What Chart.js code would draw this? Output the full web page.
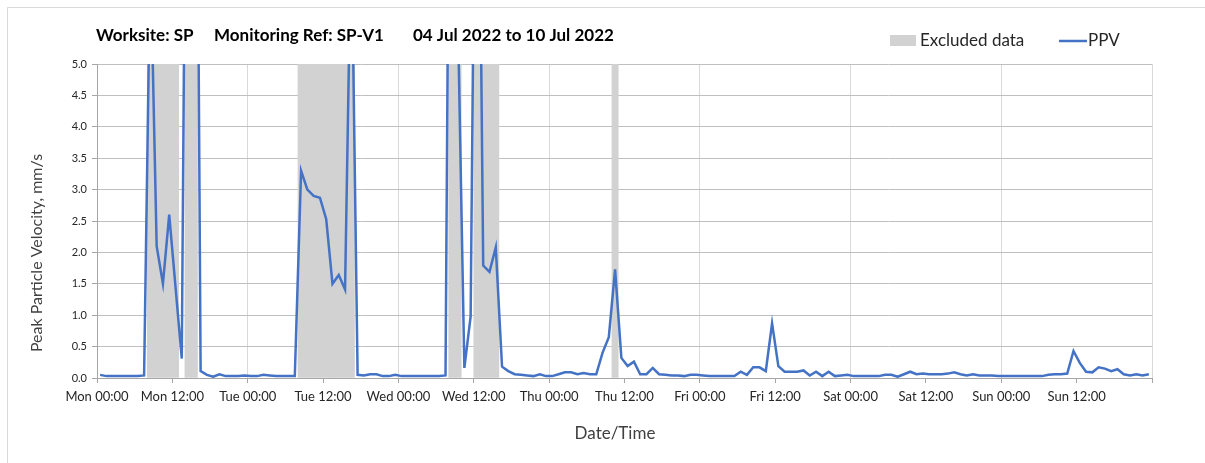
<!DOCTYPE html>
<html>
<head>
<meta charset="utf-8">
<script src="https://cdn.jsdelivr.net/npm/chart.js@4/dist/chart.umd.min.js"></script>
<style>
	html, body { margin: 0; padding: 0; background: #fff; }
</style>
</head>
<body>
<canvas id="ppv-chart" width="1205" height="463"></canvas>
<script>
'use strict';

const TITLE_PARTS = ['Worksite: SP', 'Monitoring Ref: SP-V1', '04 Jul 2022 to 10 Jul 2022'];
const X_TITLE = 'Date/Time';
const Y_TITLE = 'Peak Particle Velocity, mm/s';
const TICK_LABELS = [
	'Mon 00:00', 'Mon 12:00', 'Tue 00:00', 'Tue 12:00', 'Wed 00:00', 'Wed 12:00',
	'Thu 00:00', 'Thu 12:00', 'Fri 00:00', 'Fri 12:00', 'Sat 00:00', 'Sat 12:00',
	'Sun 00:00', 'Sun 12:00',
];

// hourly PPV (mm/s), first reading at Mon 00:30
const PPV_MON = [0.05, 0.03, 0.03, 0.03, 0.03, 0.03, 0.03, 0.04, 6.8, 2.1, 1.5, 2.6,
	1.45, 0.31, 14, 16, 0.11, 0.05, 0.02, 0.06, 0.03, 0.03, 0.03, 0.04];
const PPV_TUE = [0.03, 0.03, 0.05, 0.04, 0.03, 0.03, 0.03, 0.03, 3.3, 3.0, 2.9, 2.87,
	2.53, 1.5, 1.64, 1.41, 7.3, 0.05, 0.04, 0.06, 0.06, 0.03, 0.03, 0.05];
const PPV_WED = [0.03, 0.03, 0.03, 0.03, 0.03, 0.03, 0.03, 0.04, 15, 5.6, 0.16, 0.98,
	12, 1.79, 1.69, 2.08, 0.18, 0.11, 0.06, 0.05, 0.04, 0.03, 0.06, 0.03];
const PPV_THU = [0.03, 0.06, 0.09, 0.09, 0.06, 0.08, 0.06, 0.06, 0.4, 0.65, 1.73, 0.32,
	0.19, 0.26, 0.06, 0.06, 0.16, 0.06, 0.05, 0.04, 0.04, 0.03, 0.05, 0.05];
const PPV_FRI = [0.04, 0.03, 0.03, 0.03, 0.03, 0.03, 0.1, 0.05, 0.17, 0.17, 0.11, 0.87,
	0.19, 0.1, 0.1, 0.1, 0.12, 0.04, 0.1, 0.03, 0.1, 0.03, 0.04, 0.05];
const PPV_SAT = [0.03, 0.03, 0.03, 0.03, 0.03, 0.05, 0.05, 0.02, 0.06, 0.1, 0.06, 0.07,
	0.06, 0.06, 0.06, 0.07, 0.09, 0.06, 0.04, 0.06, 0.04, 0.04, 0.04, 0.03];
const PPV_SUN = [0.03, 0.03, 0.03, 0.03, 0.03, 0.03, 0.03, 0.05, 0.06, 0.06, 0.07, 0.43,
	0.24, 0.1, 0.09, 0.17, 0.15, 0.11, 0.14, 0.06, 0.04, 0.06, 0.04, 0.06];

// hours (from Mon 00:00) flagged as excluded data
const EXCLUDED_HOURS = [8, 9, 10, 11, 12, 14, 15, 32, 33, 34, 35, 36, 37, 38, 39, 40,
	56, 57, 60, 61, 62, 63, 82];

const Y_MAX = 5;
const PPV_COLOR = '#4472c4';
const EXCLUDED_COLOR = '#d2d2d2';
const FONT = 'Lato';

function buildPpvPoints() {
	const all = [].concat(PPV_MON, PPV_TUE, PPV_WED, PPV_THU, PPV_FRI, PPV_SAT, PPV_SUN);
	return all.map((v, i) => ({ x: i + 0.5, y: v }));
}

function buildExcludedPoints() {
	return EXCLUDED_HOURS.map((h) => ({ x: h + 0.5, y: Y_MAX }));
}

//title, legend and axis titles are placed by hand to sit where the original has them
const headerPlugin = {
	id: 'header',
	afterDraw(chart) {
		const ctx = chart.ctx;
		ctx.save();

		ctx.strokeStyle = '#d9d9d9';
		ctx.lineWidth = 1;
		ctx.beginPath();
		ctx.moveTo(7.5, 463);
		ctx.lineTo(7.5, 7.5);
		ctx.lineTo(1205, 7.5);
		ctx.stroke();

		ctx.fillStyle = '#000';
		ctx.textBaseline = 'middle';
		ctx.font = 'bold 17px ' + FONT;
		const titleX = [96, 214, 413];
		TITLE_PARTS.forEach((t, i) => ctx.fillText(t, titleX[i], 36));

		ctx.font = '17px ' + FONT;
		ctx.fillStyle = EXCLUDED_COLOR;
		ctx.fillRect(890, 35, 26, 11);
		ctx.fillStyle = '#262626';
		ctx.fillText('Excluded data', 920, 41);

		ctx.strokeStyle = PPV_COLOR;
		ctx.lineWidth = 2.5;
		ctx.beginPath();
		ctx.moveTo(1059, 41);
		ctx.lineTo(1087, 41);
		ctx.stroke();
		ctx.fillText('PPV', 1088, 41);

		ctx.fillStyle = '#404040';
		ctx.textAlign = 'center';
		ctx.font = '17px ' + FONT;
		ctx.fillText(X_TITLE, 615, 434);

		ctx.font = '16px ' + FONT;
		ctx.translate(37, 253);
		ctx.rotate(-Math.PI / 2);
		ctx.fillText(Y_TITLE, 0, 0);

		ctx.restore();
	},
};

function getX() {
	return {
		type: 'linear',
		min: 0,
		max: 168,
		offset: false,
		afterFit(scale) {
			scale.height = 85;
		},
		ticks: {
			stepSize: 12,
			autoSkip: false,
			maxRotation: 0,
			padding: 6,
			color: '#262626',
			font: { family: FONT, size: 13 },
			callback: (v) => TICK_LABELS[v / 12] || '',
		},
		grid: {
			offset: false,
			color: (c) => (c.tick && c.tick.value % 24 === 0 ? '#d9d9d9' : 'rgba(0,0,0,0)'),
			tickColor: '#a6a6a6',
			tickLength: 5,
		},
		border: { color: '#a6a6a6' },
	};
}

function getY() {
	return {
		min: 0,
		max: Y_MAX,
		afterFit(scale) {
			scale.width = 97;
		},
		ticks: {
			stepSize: 0.5,
			padding: 5,
			color: '#262626',
			font: { family: FONT, size: 11 },
			callback: (v) => v.toFixed(1),
		},
		grid: {
			color: '#bfbfbf',
			tickColor: '#a6a6a6',
			tickLength: 5,
		},
		border: { color: '#a6a6a6' },
	};
}

function makePpvChart() {
	const ctx = document.querySelector('#ppv-chart').getContext('2d');
	const configuration = {
		type: 'line',
		data: {
			datasets: [
				{
					type: 'line',
					label: 'PPV',
					data: buildPpvPoints(),
					borderColor: PPV_COLOR,
					borderWidth: 2.5,
					pointRadius: 0,
					tension: 0,
					order: 0,
				},
				{
					type: 'bar',
					label: 'Excluded data',
					data: buildExcludedPoints(),
					backgroundColor: EXCLUDED_COLOR,
					borderWidth: 0,
					barPercentage: 1,
					categoryPercentage: 1,
					order: 1,
				},
			],
		},
		options: {
			responsive: false,
			animation: false,
			layout: { padding: { top: 64, right: 53, left: 0, bottom: 0 } },
			plugins: {
				legend: { display: false },
				title: { display: false },
				tooltip: { enabled: false },
			},
			scales: {
				x: getX(),
				y: getY(),
			},
		},
		plugins: [headerPlugin],
	};
	return new Chart(ctx, configuration);
}

makePpvChart();
</script>
</body>
</html>
